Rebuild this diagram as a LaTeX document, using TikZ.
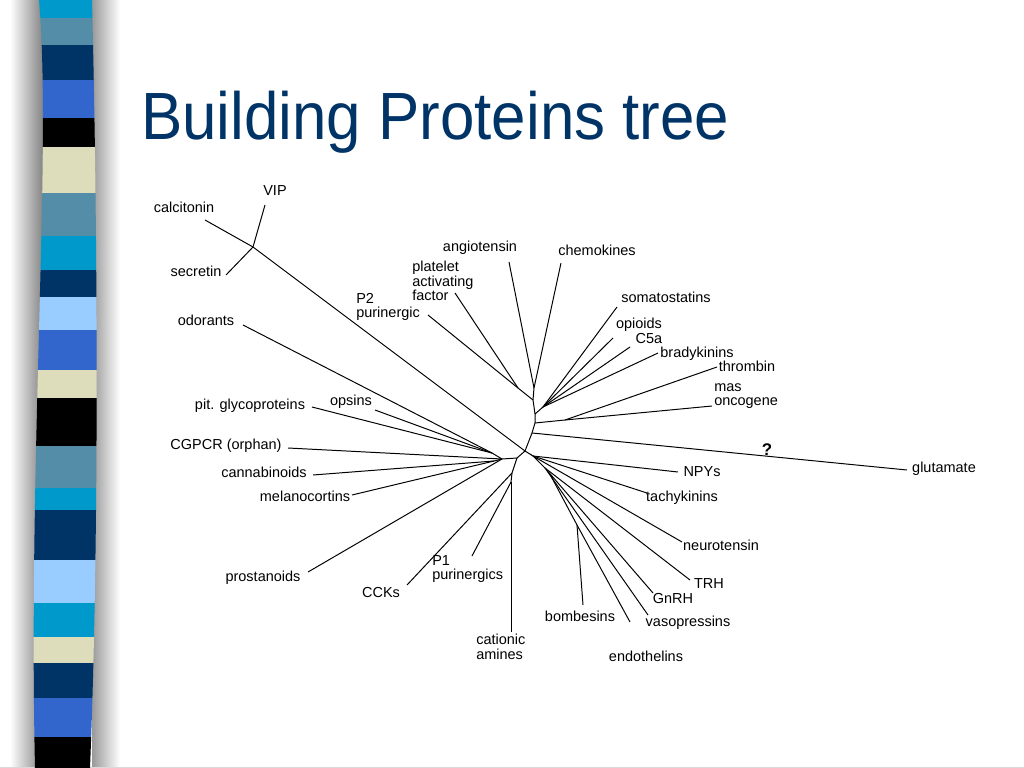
\documentclass[tikz,border=0pt]{standalone}
\usepackage{fontspec}
\setmainfont{Liberation Sans}
\usetikzlibrary{calc}
\definecolor{titleblue}{RGB}{0,51,102}
\definecolor{cyanB}{RGB}{0,153,204}
\definecolor{steelB}{RGB}{84,141,168}
\definecolor{navyB}{RGB}{0,51,102}
\definecolor{royalB}{RGB}{51,102,204}
\definecolor{beigeB}{RGB}{221,221,187}
\definecolor{lightB}{RGB}{153,204,255}
\tikzset{
  leaf/.style={inner sep=0pt,
    font=\fontsize{10.3}{10.3}\selectfont,
    text height=1.5ex, text depth=.25ex},
  leafm/.style={inner sep=0pt,
    font=\fontsize{10.3}{10.3}\selectfont, align=left},
  branch/.style={line width=0.7pt},
}

\begin{document}
\begin{tikzpicture}[x=0.025cm,y=-0.025cm]
\useasboundingbox (0,0) rectangle (1024,768);
% stripe shadow
\shade[left color=white, right color=black!50]
  (10,0) rectangle (44,768);
\shade[left color=black!40, right color=white]
  (92,0) rectangle (120,768);
\draw[black!15] (0,767) -- (1024,767);
% stripe
\begin{scope}
\clip (39,0) .. controls (52,150) and (28,450) .. (35,768) --
  (90,768) .. controls (100,520) and (97,200) .. (92,0) -- cycle;
\fill[cyanB] (20,0) rectangle (110,18);
\fill[steelB] (20,18) rectangle (110,45);
\fill[navyB] (20,45) rectangle (110,80);
\fill[royalB] (20,80) rectangle (110,118);
\fill[black] (20,118) rectangle (110,147);
\fill[beigeB] (20,147) rectangle (110,193);
\fill[steelB] (20,193) rectangle (110,236);
\fill[cyanB] (20,236) rectangle (110,270);
\fill[navyB] (20,270) rectangle (110,297);
\fill[lightB] (20,297) rectangle (110,330);
\fill[royalB] (20,330) rectangle (110,370);
\fill[beigeB] (20,370) rectangle (110,398);
\fill[black] (20,398) rectangle (110,446);
\fill[steelB] (20,446) rectangle (110,488);
\fill[cyanB] (20,488) rectangle (110,510);
\fill[navyB] (20,510) rectangle (110,560);
\fill[lightB] (20,560) rectangle (110,603);
\fill[cyanB] (20,603) rectangle (110,637);
\fill[beigeB] (20,637) rectangle (110,663);
\fill[navyB] (20,663) rectangle (110,698);
\fill[royalB] (20,698) rectangle (110,737);
\fill[black] (20,737) rectangle (110,768);
\end{scope}
% title
\node[anchor=base west, inner sep=0pt, text=titleblue,
  font=\fontsize{44}{50}\selectfont] (title) at (141,140)
  {\scalebox{1}[1.08]{Building Proteins tree}};

% inner junctions
\coordinate (kJ) at (253,247);
\coordinate (cJ) at (525,451);
\coordinate (aJ) at (534,388);
\coordinate (pJ) at (518,388);
\coordinate (bJ) at (533,400);
\coordinate (sJ) at (535,414);
\coordinate (s1J) at (543,407);
\coordinate (mJ) at (535,423);
\coordinate (tJ) at (565,420);
\coordinate (gJ) at (532,433);
\coordinate (dJ) at (533,456);
\coordinate (d2J) at (545,468);
\coordinate (d3J) at (552,478);
\coordinate (bomJ) at (577,525);
\coordinate (lJ) at (517,458);
\coordinate (oJ) at (502,459);
\coordinate (o1J) at (492,453);
\coordinate (cmJ) at (494,461);
\coordinate (lbJ) at (512,473);
\coordinate (lcJ) at (511,482);

% leaf ends
\coordinate (vipE) at (265,205);
\coordinate (secE) at (226,275);
\coordinate (calE) at (205,220);
\coordinate (odoE) at (243,325);
\coordinate (ptwoE) at (428,315);
\coordinate (pafE) at (455,293);
\coordinate (angE) at (509,262);
\coordinate (chemE) at (561,263);
\coordinate (somE) at (617,307);
\coordinate (opiE) at (613,338);
\coordinate (cfiveE) at (630,347);
\coordinate (bradE) at (658,353);
\coordinate (thrE) at (717,367);
\coordinate (masE) at (712,406);
\coordinate (gluE) at (907,470);
\coordinate (npyE) at (678,472);
\coordinate (tacE) at (647,493);
\coordinate (neuE) at (682,542);
\coordinate (trhE) at (690,580);
\coordinate (gnrhE) at (653,593);
\coordinate (vasE) at (648,615);
\coordinate (endE) at (630,622);
\coordinate (bomE) at (583,605);
\coordinate (catE) at (511,632);
\coordinate (poneE) at (472,556);
\coordinate (cckE) at (407,585);
\coordinate (proE) at (308,572);
\coordinate (melE) at (352,495);
\coordinate (canE) at (313,475);
\coordinate (cgE) at (288,448);
\coordinate (pitE) at (312,407);
\coordinate (opsE) at (375,410);

% labels
\node[leaf] (vip) at (275,191) {VIP};
\node[leaf] (calcitonin) at (184,208) {calcitonin};
\node[leaf] (secretin) at (196,272) {secretin};
\node[leaf] (odorants) at (206,321) {odorants};
\node[leafm, anchor=west] (ptwo) at (356,307) {P2\\purinergic};
\node[leafm, anchor=west] (paf) at (412,281) {platelet\\activating\\factor};
\node[leaf] (angiotensin) at (480,247) {angiotensin};
\node[leaf] (chemokines) at (597,251) {chemokines};
\node[leaf] (somatostatins) at (666,298) {somatostatins};
\node[leaf] (opioids) at (639,324) {opioids};
\node[leaf] (cfive) at (649,339) {C5a};
\node[leaf] (bradykinins) at (697,353) {bradykinins};
\node[leaf] (thrombin) at (747,367) {thrombin};
\node[leafm, anchor=west] (mas) at (714,396) {mas\\oncogene};
\node[leaf] (glutamate) at (944,468) {glutamate};
\node[inner sep=0pt, font=\fontsize{12}{12}\bfseries] (qmark) at (767,450) {?};
\node[leaf] (npys) at (702,472) {NPYs};
\node[leaf] (tachykinins) at (682,497) {tachykinins};
\node[leaf] (neurotensin) at (721,546) {neurotensin};
\node[leaf] (trh) at (709,584) {TRH};
\node[leaf] (gnrh) at (673,599) {GnRH};
\node[leaf] (vasopressins) at (688,622) {vasopressins};
\node[leaf] (bombesins) at (580,617) {bombesins};
\node[leaf] (endothelins) at (646,657) {endothelins};
\node[leafm, anchor=west] (cationic) at (476,647) {cationic\\amines};
\node[leafm, anchor=west] (pone) at (432,569) {P1\\purinergics};
\node[leaf] (ccks) at (381,593) {CCKs};
\node[leaf] (prostanoids) at (263,577) {prostanoids};
\node[leaf] (melanocortins) at (305,497) {melanocortins};
\node[leaf] (cannabinoids) at (264,473) {cannabinoids};
\node[leaf] (cgpcr) at (226,445) {CGPCR (orphan)};
\node[leaf] (pit) at (250,405) {pit. glycoproteins};
\node[leaf] (opsins) at (351,401) {opsins};

% branches
\draw[branch] (vipE) -- (kJ);
\draw[branch] (secE) -- (kJ);
\draw[branch] (calE) -- (kJ) -- (cJ);
\draw[branch] (angE) -- (aJ);
\draw[branch] (chemE) -- (aJ);
\draw[branch] (pafE) -- (pJ);
\draw[branch] (ptwoE) -- (pJ) -- (bJ);
\draw[branch]
  (aJ) -- (bJ) -- (sJ) -- (mJ) -- (gJ) -- (cJ) -- (lJ) -- (lbJ) -- (lcJ);
\draw[branch] (somE) -- (s1J);
\draw[branch] (opiE) -- (s1J);
\draw[branch] (cfiveE) -- (s1J);
\draw[branch] (bradE) -- (s1J) -- (sJ);
\draw[branch] (thrE) -- (tJ);
\draw[branch] (masE) -- (tJ) -- (mJ);
\draw[branch] (gluE) -- (gJ);
\draw[branch] (cJ) -- (dJ);
\draw[branch] (npyE) -- (dJ);
\draw[branch] (tacE) -- (dJ);
\draw[branch] (neuE) -- (dJ) -- (d2J);
\draw[branch] (trhE) -- (d2J);
\draw[branch] (gnrhE) -- (d2J) -- (d3J);
\draw[branch] (vasE) -- (d3J);
\draw[branch] (endE) -- (bomJ) -- (d3J);
\draw[branch] (bomE) -- (bomJ);
\draw[branch] (lJ) -- (oJ);
\draw[branch] (cgE) -- (oJ);
\draw[branch] (proE) -- (oJ);
\draw[branch] (odoE) -- (o1J);
\draw[branch] (pitE) -- (o1J);
\draw[branch] (opsE) -- (o1J) -- (oJ);
\draw[branch] (canE) -- (cmJ);
\draw[branch] (melE) -- (cmJ) -- (oJ);
\draw[branch] (cckE) -- (lbJ);
\draw[branch] (poneE) -- (lcJ);
\draw[branch] (catE) -- (lcJ);
\end{tikzpicture}
\end{document}
